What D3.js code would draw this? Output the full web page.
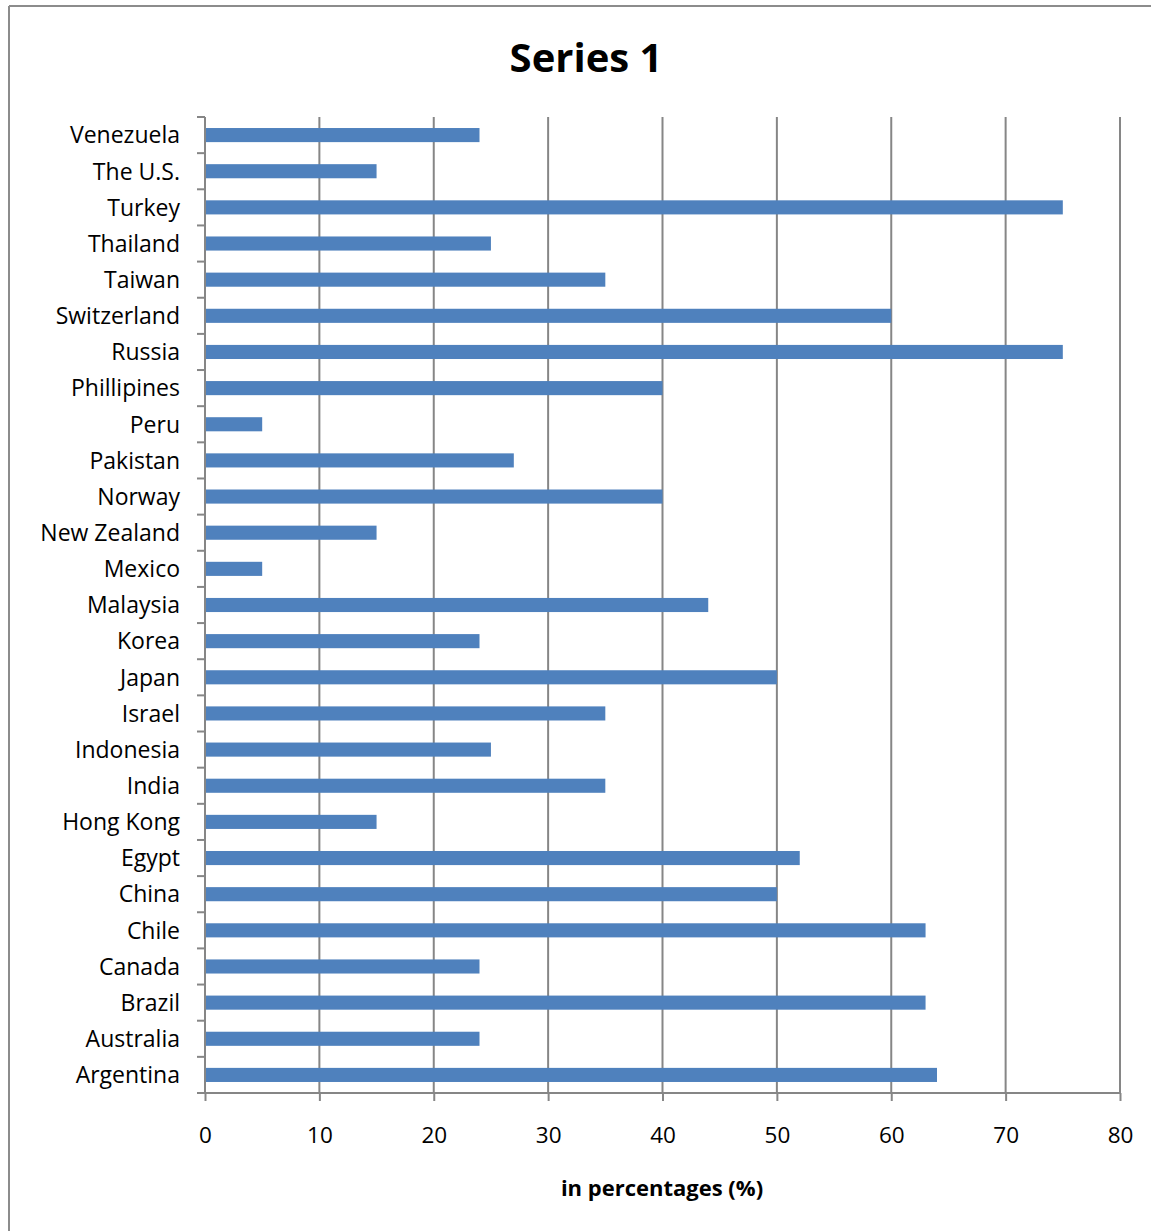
<!DOCTYPE html>
<meta charset="utf-8">
<style>
  body { margin: 0; background: #fff; }
  svg { display: block; font-family: "Open Sans", sans-serif; }
  .grid line { stroke: #868686; stroke-width: 2px; }
  .axis path, .axis line { stroke: #868686; stroke-width: 2px; }
  .axis text { fill: #000; }
</style>
<body>
<script src="https://d3js.org/d3.v7.min.js"></script>
<script>
  // categories listed bottom to top as in the chart
  const countries = ["Argentina", "Australia", "Brazil", "Canada", "Chile", "China", "Egypt",
    "Hong Kong", "India", "Indonesia", "Israel", "Japan", "Korea", "Malaysia", "Mexico",
    "New Zealand", "Norway", "Pakistan", "Peru", "Phillipines", "Russia", "Switzerland",
    "Taiwan", "Thailand", "Turkey", "The U.S.", "Venezuela"];
  const values = [64, 24, 63, 24, 63, 50, 52, 15, 35, 25, 35, 50, 24, 44, 5,
    15, 40, 27, 5, 40, 75, 60, 35, 25, 75, 15, 24];
  const xTicks = [0, 10, 20, 30, 40, 50, 60, 70, 80];

  const W = 1151, H = 1231;
  const svg = d3.select("body").append("svg").attr("width", W).attr("height", H);

  // outer frame (top and left edges visible)
  svg.append("line").attr("x1", 9).attr("x2", W).attr("y1", 6).attr("y2", 6)
    .attr("stroke", "#8c8c8c").attr("stroke-width", 2);
  svg.append("line").attr("x1", 9).attr("x2", 9).attr("y1", 6).attr("y2", H)
    .attr("stroke", "#8c8c8c").attr("stroke-width", 2);

  const x = d3.scaleLinear().domain([0, 80]).range([205, 1120]);
  const y = d3.scaleBand().domain(countries.slice().reverse()).range([117, 1093])
    .paddingInner(0.61).paddingOuter(0.305);
  const yTicks = d3.scaleLinear().domain([0, countries.length]).range([1093, 117]);

  // vertical gridlines
  svg.append("g").attr("class", "grid")
    .selectAll("line").data(xTicks.slice(1)).join("line")
      .attr("x1", d => x(d)).attr("x2", d => x(d))
      .attr("y1", 117).attr("y2", 1093);

  // bars
  svg.append("g").selectAll("rect").data(countries).join("rect")
    .attr("x", x(0))
    .attr("y", d => y(d))
    .attr("width", (d, i) => x(values[i]) - x(0))
    .attr("height", y.bandwidth())
    .attr("fill", "#4f81bd");

  // y axis: line, ticks between categories, labels
  const yAxis = svg.append("g").attr("class", "axis");
  yAxis.append("line").attr("x1", x(0)).attr("x2", x(0)).attr("y1", 117).attr("y2", 1093);
  yAxis.selectAll(".tk").data(d3.range(countries.length + 1)).join("line")
    .attr("class", "tk")
    .attr("x1", x(0) - 8).attr("x2", x(0))
    .attr("y1", d => yTicks(d)).attr("y2", d => yTicks(d));
  yAxis.selectAll("text").data(countries).join("text")
    .attr("x", 180)
    .attr("y", d => y(d) + y.bandwidth() / 2)
    .attr("dy", "0.36em")
    .attr("text-anchor", "end")
    .attr("font-size", 23)
    .text(d => d);

  // x axis
  const xAxis = svg.append("g").attr("class", "axis")
    .attr("transform", "translate(0,1093)")
    .call(d3.axisBottom(x).tickValues(xTicks).tickSize(8).tickPadding(26).tickFormat(d3.format("d")));
  xAxis.select(".domain").attr("d", `M${x(0) - 8},0H${x(80)}`);
  xAxis.selectAll("text").attr("font-size", 22.5).attr("font-family", "Open Sans, sans-serif");

  // titles
  svg.append("text").attr("x", 586).attr("y", 72)
    .attr("text-anchor", "middle").attr("font-size", 40).attr("font-weight", "bold")
    .text("Series 1");
  svg.append("text").attr("x", 662).attr("y", 1196)
    .attr("text-anchor", "middle").attr("font-size", 22).attr("font-weight", "bold")
    .text("in percentages (%)");
</script>
</body>
